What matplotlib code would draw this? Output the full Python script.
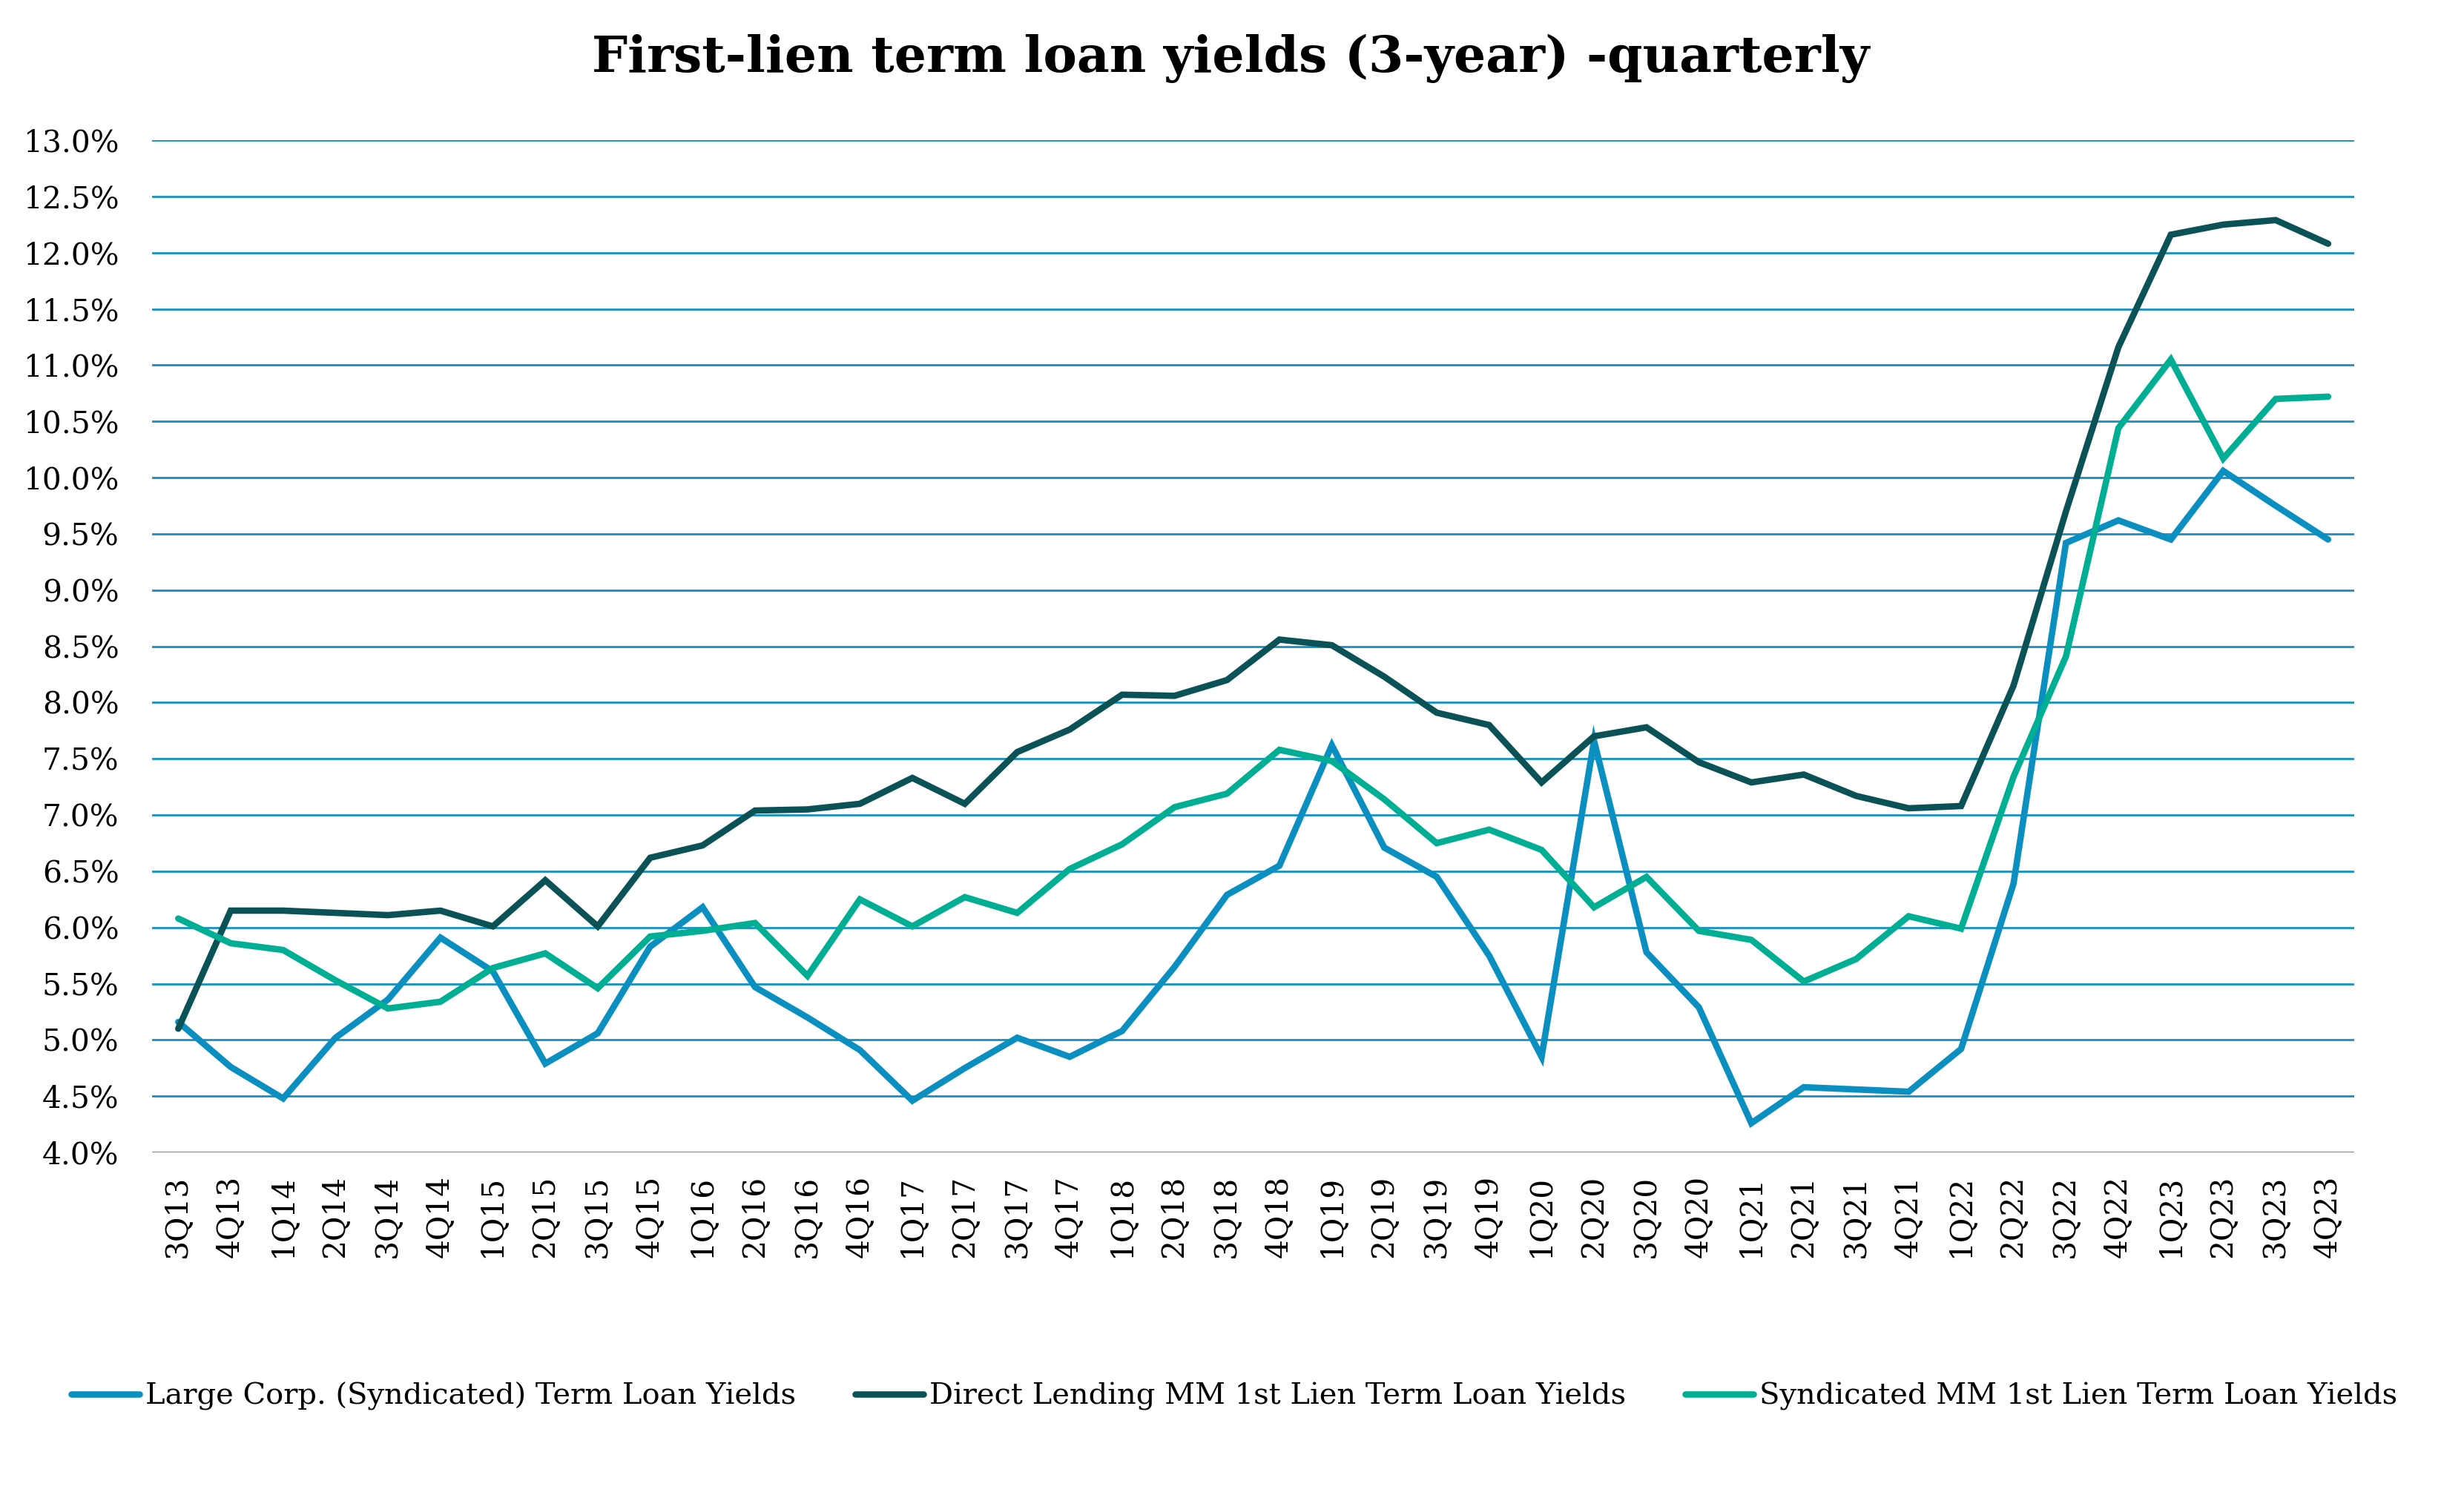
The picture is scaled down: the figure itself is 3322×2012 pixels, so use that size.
import numpy as np
import matplotlib.pyplot as plt
from matplotlib.ticker import FuncFormatter, MultipleLocator

plt.rcParams['font.family'] = ['DejaVu Serif']

quarters = ['3Q13', '4Q13',
            '1Q14', '2Q14', '3Q14', '4Q14',
            '1Q15', '2Q15', '3Q15', '4Q15',
            '1Q16', '2Q16', '3Q16', '4Q16',
            '1Q17', '2Q17', '3Q17', '4Q17',
            '1Q18', '2Q18', '3Q18', '4Q18',
            '1Q19', '2Q19', '3Q19', '4Q19',
            '1Q20', '2Q20', '3Q20', '4Q20',
            '1Q21', '2Q21', '3Q21', '4Q21',
            '1Q22', '2Q22', '3Q22', '4Q22',
            '1Q23', '2Q23', '3Q23', '4Q23']

large_corp = [5.16, 4.76, 4.48, 5.02, 5.36, 5.91, 5.61, 4.79, 5.06, 5.83,
              6.18, 5.47, 5.20, 4.91, 4.46, 4.75, 5.02, 4.85, 5.08, 5.65,
              6.29, 6.55, 7.62, 6.71, 6.45, 5.75, 4.85, 7.66, 5.78, 5.29,
              4.26, 4.58, 4.56, 4.54, 4.92, 6.39, 9.42, 9.62, 9.45, 10.06,
              9.75, 9.45]

direct_lending = [5.10, 6.15, 6.15, 6.13, 6.11, 6.15, 6.01, 6.42, 6.01, 6.62,
                  6.73, 7.04, 7.05, 7.10, 7.33, 7.10, 7.56, 7.76, 8.07, 8.06,
                  8.20, 8.56, 8.51, 8.23, 7.91, 7.80, 7.29, 7.70, 7.78, 7.47,
                  7.29, 7.36, 7.17, 7.06, 7.08, 8.15, 9.70, 11.16, 12.16, 12.25,
                  12.29, 12.08]

syndicated_mm = [6.08, 5.86, 5.80, 5.53, 5.28, 5.34, 5.64, 5.77, 5.46, 5.92,
                 5.97, 6.04, 5.57, 6.25, 6.01, 6.27, 6.13, 6.52, 6.74, 7.07,
                 7.19, 7.58, 7.48, 7.14, 6.75, 6.87, 6.69, 6.18, 6.45, 5.97,
                 5.89, 5.52, 5.72, 6.10, 5.99, 7.34, 8.41, 10.44, 11.05, 10.17,
                 10.70, 10.72]

x = np.arange(len(quarters))

fig = plt.figure(figsize=(16.61, 10.06), dpi=200)
ax = fig.add_axes([0.0617, 0.2276, 0.8938, 0.6784])

ax.plot(x, large_corp, color='#0A8FC0', lw=3.1, solid_joinstyle='miter',
        solid_capstyle='round', label='Large Corp. (Syndicated) Term Loan Yields', zorder=3)
ax.plot(x, direct_lending, color='#0B5257', lw=3.1, solid_joinstyle='miter',
        solid_capstyle='round', label='Direct Lending MM 1st Lien Term Loan Yields', zorder=3)
ax.plot(x, syndicated_mm, color='#00AE94', lw=3.1, solid_joinstyle='miter',
        solid_capstyle='round', label='Syndicated MM 1st Lien Term Loan Yields', zorder=3)

ax.set_xlim(-0.5, len(quarters) - 0.5)
ax.set_ylim(4.0, 13.0)
ax.yaxis.set_major_locator(MultipleLocator(0.5))
ax.yaxis.set_major_formatter(FuncFormatter(lambda v, p: f'{v:.1f}%'))
ax.set_xticks(x)
ax.set_xticklabels(quarters, rotation=90)

ax.grid(axis='y', color='#1590C2', lw=1.0)
ax.set_axisbelow(True)
for s in ax.spines.values():
    s.set_visible(False)
ax.tick_params(axis='both', length=0, labelsize=14.7)
ax.tick_params(axis='y', pad=16)
ax.tick_params(axis='x', pad=11)

fig.suptitle('First-lien term loan yields (3-year) -quarterly',
             x=0.4995, y=0.961, fontsize=24.5, fontweight='bold', va='center')

fig.legend(loc='center', bbox_to_anchor=(0.501, 0.064), ncol=3, frameon=False,
           fontsize=14.4, handlelength=2.3, handletextpad=0.2, columnspacing=2.0)

fig.savefig('out.png', dpi=200)
